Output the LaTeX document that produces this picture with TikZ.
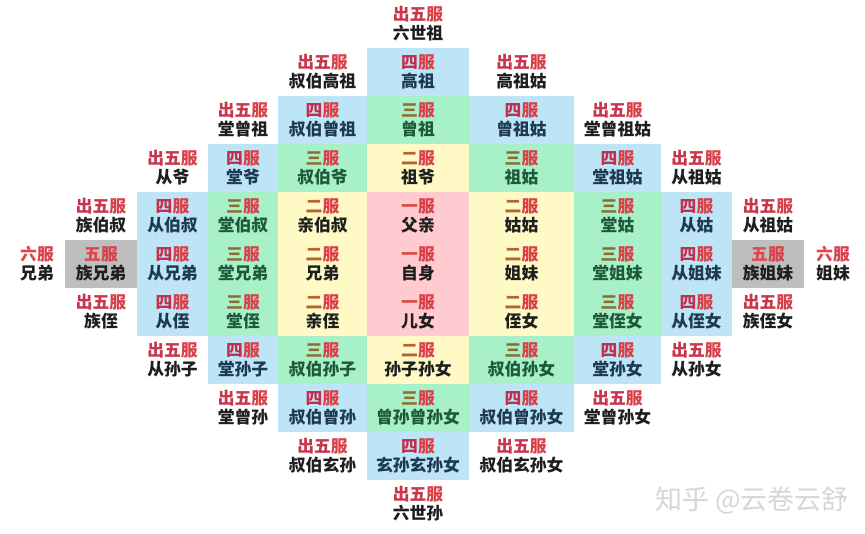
\documentclass[tikz,border=0pt]{standalone}
\usepackage{fontspec}
\setmainfont{Noto Sans CJK SC}

\definecolor{cellblue}{HTML}{BDE5F6}
\definecolor{cellgreen}{HTML}{A8F1C8}
\definecolor{cellyellow}{HTML}{FFF9C6}
\definecolor{cellpink}{HTML}{FFCBD0}
\definecolor{cellgray}{HTML}{BEBEBE}
\definecolor{fured}{HTML}{D8404A}
\definecolor{chured}{HTML}{C8364A}
\definecolor{sibrown}{HTML}{C0304E}
\definecolor{sanolive}{HTML}{8C6C2E}
\definecolor{erbrown}{HTML}{B4642E}
\definecolor{yired}{HTML}{E0464A}
\definecolor{namedark}{HTML}{1E1E1E}
\definecolor{namegreen}{HTML}{1E5A3A}
\definecolor{nameblue}{HTML}{1E3A52}

% mourning grade: first character(s) in own colour, then a red 服
\newcommand{\rank}[2]{{\color{#1}#2}{\color{fured}服}}

\tikzset{
  cell/.style={inner sep=0pt, align=center, minimum height=48pt,
    font=\bfseries\fontsize{16.8}{19}\selectfont, text=namedark},
  plaincell/.style={cell},
  bluecell/.style={cell, fill=cellblue, text=nameblue},
  greencell/.style={cell, fill=cellgreen, text=namegreen},
  yellowcell/.style={cell, fill=cellyellow},
  pinkcell/.style={cell, fill=cellpink},
  graycell/.style={cell, fill=cellgray},
  col1/.style={minimum width=72pt},
  col2/.style={minimum width=71pt},
  col3/.style={minimum width=70pt},
  col4/.style={minimum width=89pt},
  col5/.style={minimum width=102pt},
  col6/.style={minimum width=105pt},
  col7/.style={minimum width=87pt},
  col8/.style={minimum width=71pt},
  col9/.style={minimum width=72pt},
  watermark/.style={text=black!16, font=\fontsize{27}{27}\selectfont}
}

\begin{document}
\begin{tikzpicture}[x=1pt,y=-1pt]
  \useasboundingbox (0,0) rectangle (865,533);

  % row 0
  \node[plaincell] (r0c5) at (418,24) {\rank{chured}{出五}\\六世祖};

  % row 1
  \node[plaincell] (r1c4) at (322.5,72) {\rank{chured}{出五}\\叔伯高祖};
  \node[bluecell, col5] (r1c5) at (418,72) {\rank{sibrown}{四}\\高祖};
  \node[plaincell] (r1c6) at (521.5,72) {\rank{chured}{出五}\\高祖姑};

  % row 2
  \node[plaincell] (r2c3) at (243,120) {\rank{chured}{出五}\\堂曾祖};
  \node[bluecell, col4] (r2c4) at (322.5,120) {\rank{sibrown}{四}\\叔伯曾祖};
  \node[greencell, col5] (r2c5) at (418,120) {\rank{sanolive}{三}\\曾祖};
  \node[bluecell, col6] (r2c6) at (521.5,120) {\rank{sibrown}{四}\\曾祖姑};
  \node[plaincell] (r2c7) at (617.5,120) {\rank{chured}{出五}\\堂曾祖姑};

  % row 3
  \node[plaincell] (r3c2) at (172.5,168) {\rank{chured}{出五}\\从爷};
  \node[bluecell, col3] (r3c3) at (243,168) {\rank{sibrown}{四}\\堂爷};
  \node[greencell, col4] (r3c4) at (322.5,168) {\rank{sanolive}{三}\\叔伯爷};
  \node[yellowcell, col5] (r3c5) at (418,168) {\rank{erbrown}{二}\\祖爷};
  \node[greencell, col6] (r3c6) at (521.5,168) {\rank{sanolive}{三}\\祖姑};
  \node[bluecell, col7] (r3c7) at (617.5,168) {\rank{sibrown}{四}\\堂祖姑};
  \node[plaincell] (r3c8) at (696.5,168) {\rank{chured}{出五}\\从祖姑};

  % row 4
  \node[plaincell] (r4c1) at (101,216) {\rank{chured}{出五}\\族伯叔};
  \node[bluecell, col2] (r4c2) at (172.5,216) {\rank{sibrown}{四}\\从伯叔};
  \node[greencell, col3] (r4c3) at (243,216) {\rank{sanolive}{三}\\堂伯叔};
  \node[yellowcell, col4] (r4c4) at (322.5,216) {\rank{erbrown}{二}\\亲伯叔};
  \node[pinkcell, col5] (r4c5) at (418,216) {\rank{yired}{一}\\父亲};
  \node[yellowcell, col6] (r4c6) at (521.5,216) {\rank{erbrown}{二}\\姑姑};
  \node[greencell, col7] (r4c7) at (617.5,216) {\rank{sanolive}{三}\\堂姑};
  \node[bluecell, col8] (r4c8) at (696.5,216) {\rank{sibrown}{四}\\从姑};
  \node[plaincell] (r4c9) at (768,216) {\rank{chured}{出五}\\从祖姑};

  % row 5
  \node[plaincell] (r5c0) at (37,264) {\rank{yired}{六}\\兄弟};
  \node[graycell, col1] (r5c1) at (101,264) {\rank{yired}{五}\\族兄弟};
  \node[bluecell, col2] (r5c2) at (172.5,264) {\rank{sibrown}{四}\\从兄弟};
  \node[greencell, col3] (r5c3) at (243,264) {\rank{sanolive}{三}\\堂兄弟};
  \node[yellowcell, col4] (r5c4) at (322.5,264) {\rank{erbrown}{二}\\兄弟};
  \node[pinkcell, col5] (r5c5) at (418,264) {\rank{yired}{一}\\自身};
  \node[yellowcell, col6] (r5c6) at (521.5,264) {\rank{erbrown}{二}\\姐妹};
  \node[greencell, col7] (r5c7) at (617.5,264) {\rank{sanolive}{三}\\堂姐妹};
  \node[bluecell, col8] (r5c8) at (696.5,264) {\rank{sibrown}{四}\\从姐妹};
  \node[graycell, col9] (r5c9) at (768,264) {\rank{yired}{五}\\族姐妹};
  \node[plaincell] (r5c10) at (833,264) {\rank{yired}{六}\\姐妹};

  % row 6
  \node[plaincell] (r6c1) at (101,312) {\rank{chured}{出五}\\族侄};
  \node[bluecell, col2] (r6c2) at (172.5,312) {\rank{sibrown}{四}\\从侄};
  \node[greencell, col3] (r6c3) at (243,312) {\rank{sanolive}{三}\\堂侄};
  \node[yellowcell, col4] (r6c4) at (322.5,312) {\rank{erbrown}{二}\\亲侄};
  \node[pinkcell, col5] (r6c5) at (418,312) {\rank{yired}{一}\\儿女};
  \node[yellowcell, col6] (r6c6) at (521.5,312) {\rank{erbrown}{二}\\侄女};
  \node[greencell, col7] (r6c7) at (617.5,312) {\rank{sanolive}{三}\\堂侄女};
  \node[bluecell, col8] (r6c8) at (696.5,312) {\rank{sibrown}{四}\\从侄女};
  \node[plaincell] (r6c9) at (768,312) {\rank{chured}{出五}\\族侄女};

  % row 7
  \node[plaincell] (r7c2) at (172.5,360) {\rank{chured}{出五}\\从孙子};
  \node[bluecell, col3] (r7c3) at (243,360) {\rank{sibrown}{四}\\堂孙子};
  \node[greencell, col4] (r7c4) at (322.5,360) {\rank{sanolive}{三}\\叔伯孙子};
  \node[yellowcell, col5] (r7c5) at (418,360) {\rank{erbrown}{二}\\孙子孙女};
  \node[greencell, col6] (r7c6) at (521.5,360) {\rank{sanolive}{三}\\叔伯孙女};
  \node[bluecell, col7] (r7c7) at (617.5,360) {\rank{sibrown}{四}\\堂孙女};
  \node[plaincell] (r7c8) at (696.5,360) {\rank{chured}{出五}\\从孙女};

  % row 8
  \node[plaincell] (r8c3) at (243,408) {\rank{chured}{出五}\\堂曾孙};
  \node[bluecell, col4] (r8c4) at (322.5,408) {\rank{sibrown}{四}\\叔伯曾孙};
  \node[greencell, col5] (r8c5) at (418,408) {\rank{sanolive}{三}\\曾孙曾孙女};
  \node[bluecell, col6] (r8c6) at (521.5,408) {\rank{sibrown}{四}\\叔伯曾孙女};
  \node[plaincell] (r8c7) at (617.5,408) {\rank{chured}{出五}\\堂曾孙女};

  % row 9
  \node[plaincell] (r9c4) at (322.5,456) {\rank{chured}{出五}\\叔伯玄孙};
  \node[bluecell, col5] (r9c5) at (418,456) {\rank{sibrown}{四}\\玄孙玄孙女};
  \node[plaincell] (r9c6) at (521.5,456) {\rank{chured}{出五}\\叔伯玄孙女};

  % row 10
  \node[plaincell] (r10c5) at (418,504) {\rank{chured}{出五}\\六世孙};

  \node[watermark] (zhihu) at (752,500) {知乎 @云卷云舒};
\end{tikzpicture}
\end{document}
